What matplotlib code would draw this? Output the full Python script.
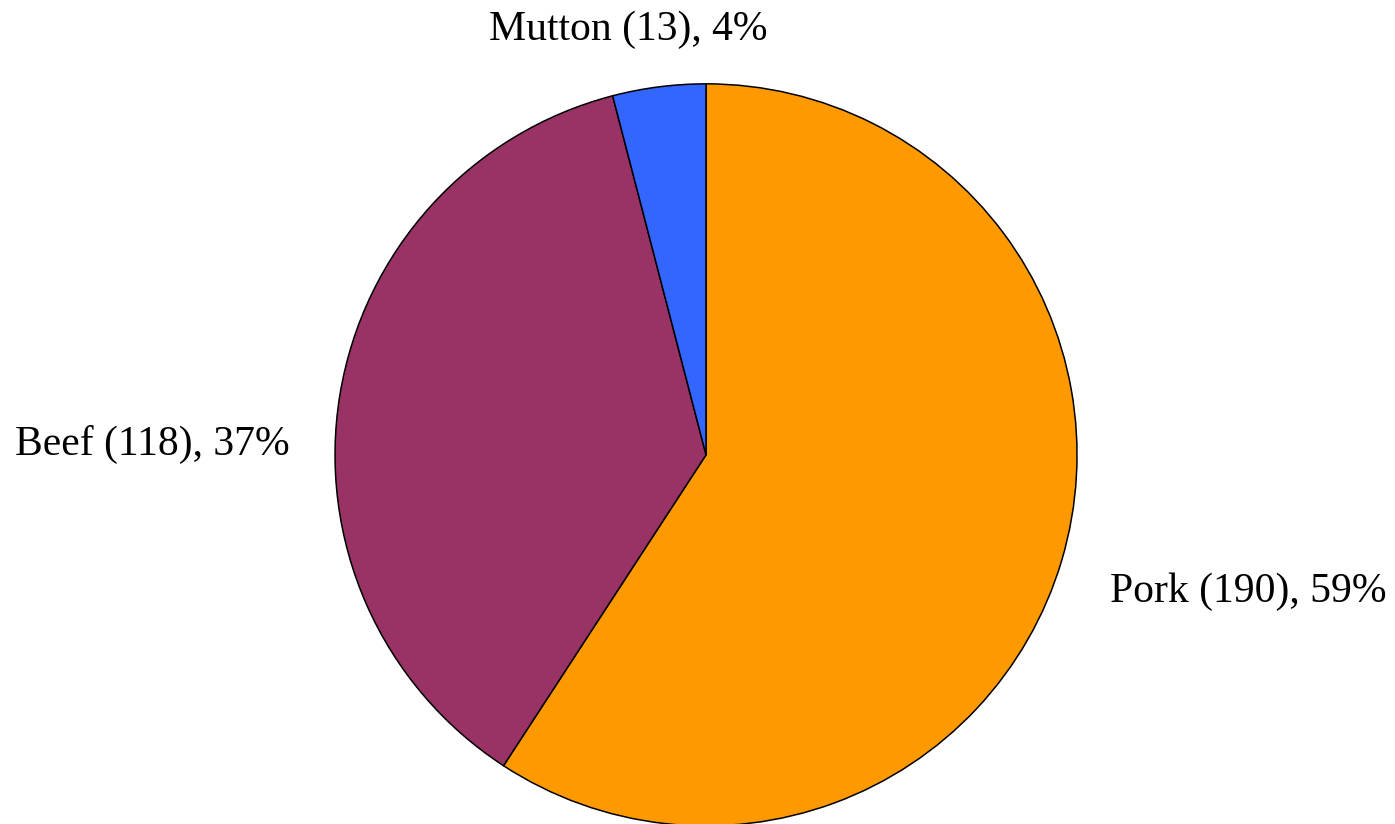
import matplotlib
matplotlib.use("Agg")
import matplotlib.pyplot as plt

meats = ["Pork", "Beef", "Mutton"]
counts = [190, 118, 13]
colors = ["#FF9900", "#993366", "#3366FF"]

total = sum(counts)
labels = ["%s (%d), %d%%" % (m, c, round(100.0 * c / total)) for m, c in zip(meats, counts)]

# label anchors (left edge, baseline) in pie-radius units
label_pos = [(1.089, -0.396), (-1.863, 0.0), (-0.585, 1.119)]

fig = plt.figure(figsize=(13.95, 8.24), dpi=100)
ax = fig.add_axes([0, 0, 1, 1])
ax.pie(counts, colors=colors, startangle=90, counterclock=False, radius=1.0,
       wedgeprops=dict(edgecolor="black", linewidth=1.1))
ax.set_aspect("auto")
ax.set_xlim(-1.903, 1.857)
ax.set_ylim(-0.995, 1.226)
ax.axis("off")

for lab, (x, y) in zip(labels, label_pos):
    ax.text(x, y, lab, ha="left", va="baseline", fontsize=30,
            family="Liberation Serif", color="black")

fig.savefig("out.png", dpi=100)
